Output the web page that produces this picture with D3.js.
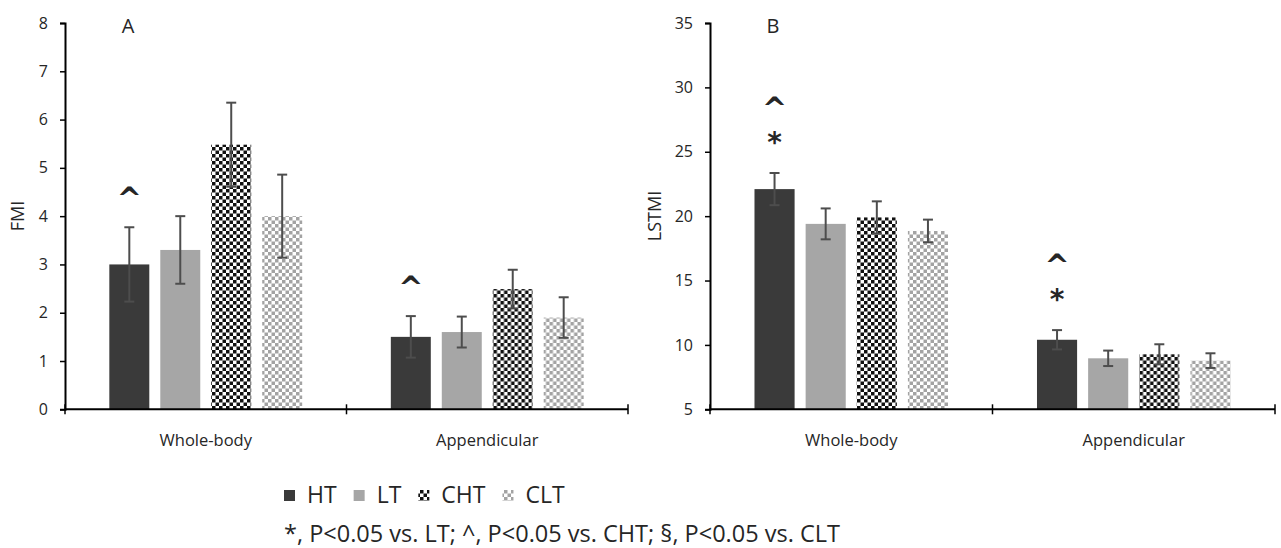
<!DOCTYPE html>
<meta charset="utf-8">
<script src="https://d3js.org/d3.v7.min.js"></script>
<body style="margin:0;background:#fff">
<div id="chart"></div>
</body>
<style>
  text { font-family: "Open Sans", sans-serif; fill: #262626; }
</style>
<script>
// data
var categories = ["Whole-body", "Appendicular"];
var groups = ["HT", "LT", "CHT", "CLT"];

// FMI (panel A): means and error half-widths, [category][group]
var fmiMean = [[3.0, 3.3, 5.48, 4.0], [1.5, 1.6, 2.49, 1.9]];
var fmiErr  = [[0.77, 0.7, 0.87, 0.86], [0.43, 0.32, 0.4, 0.42]];
var fmiMarks = [["^", "", "", ""], ["^", "", "", ""]];
var fmiTicks = [0, 1, 2, 3, 4, 5, 6, 7, 8];

// LSTMI (panel B)
var lstmiMean = [[22.1, 19.4, 19.9, 18.85], [10.4, 8.96, 9.27, 8.78]];
var lstmiErr  = [[1.25, 1.2, 1.25, 0.88], [0.75, 0.6, 0.78, 0.57]];
var lstmiMarks = [["*^", "", "", ""], ["*^", "", "", ""]];
var lstmiTicks = [5, 10, 15, 20, 25, 30, 35];

var footnote = "*, P<0.05 vs. LT; ^, P<0.05 vs. CHT; §, P<0.05 vs. CLT";

var W = 1281, H = 548;
var svg = d3.select("#chart").append("svg")
  .attr("width", W).attr("height", H);

// patterns for the checkered bars
var defs = svg.append("defs");
function checker(id, color) {
  var p = defs.append("pattern").attr("id", id)
    .attr("patternUnits", "userSpaceOnUse")
    .attr("width", 7).attr("height", 7);
  p.append("rect").attr("width", 7).attr("height", 7).attr("fill", "#fff");
  p.append("rect").attr("width", 3.5).attr("height", 3.5).attr("fill", color);
  p.append("rect").attr("x", 3.5).attr("y", 3.5).attr("width", 3.5).attr("height", 3.5).attr("fill", color);
}
checker("chk-dark", "#111");
checker("chk-light", "#a3a3a3");

var fills = {HT: "#3a3a3a", LT: "#a6a6a6", CHT: "url(#chk-dark)", CLT: "url(#chk-light)"};

var yTop = 23, yBot = 409.3;

function panel(opt) {
  var g = svg.append("g");

  var y = d3.scaleLinear().domain(opt.domain).range([yBot, yTop]);
  var x0 = d3.scaleBand().domain(categories).range([opt.left, opt.right]);
  var x1 = d3.scaleBand().domain(groups).range([0, x0.bandwidth()])
    .paddingInner(11 / 51).paddingOuter(0.87);

  // y axis
  var yAxis = g.append("g")
    .attr("transform", "translate(" + opt.left + ",0)")
    .call(d3.axisLeft(y).tickValues(opt.ticks).tickSize(5).tickPadding(12));
  yAxis.select(".domain").attr("stroke", "#000").attr("stroke-width", 2);
  yAxis.selectAll(".tick line").attr("stroke", "#000").attr("stroke-width", 1.5);
  yAxis.selectAll(".tick text").style("font-size", "16px").attr("fill", "#262626")
    .style("font-family", "'Open Sans', sans-serif");

  // bars
  categories.forEach(function(c, ci) {
    var rows = groups.map(function(gname, gi) {
      return {g: gname, v: opt.mean[ci][gi], e: opt.err[ci][gi], m: opt.marks[ci][gi]};
    });
    var cg = g.append("g").attr("transform", "translate(" + x0(c) + ",0)");
    cg.selectAll("rect.bar").data(rows).enter().append("rect")
      .attr("class", "bar")
      .attr("x", function(d) { return x1(d.g); })
      .attr("y", function(d) { return y(d.v); })
      .attr("width", x1.bandwidth())
      .attr("height", function(d) { return yBot - y(d.v); })
      .attr("fill", function(d) { return fills[d.g]; });

    var eb = cg.selectAll("g.err").data(rows).enter().append("g").attr("class", "err")
      .attr("stroke", "#4d4d4d").attr("stroke-width", 2);
    var cx = function(d) { return x1(d.g) + x1.bandwidth() / 2; };
    eb.append("line")
      .attr("x1", cx).attr("x2", cx)
      .attr("y1", function(d) { return y(d.v + d.e); })
      .attr("y2", function(d) { return y(d.v - d.e); });
    [1, -1].forEach(function(s) {
      eb.append("line")
        .attr("x1", function(d) { return cx(d) - 5; })
        .attr("x2", function(d) { return cx(d) + 5; })
        .attr("y1", function(d) { return y(d.v + s * d.e); })
        .attr("y2", function(d) { return y(d.v + s * d.e); });
    });

    // significance marks stacked above the error bar (one text, one line each)
    rows.filter(function(d) { return d.m; }).forEach(function(d) {
      var t = cg.append("text")
        .attr("text-anchor", "middle")
        .style("font-family", "'DejaVu Sans', sans-serif")
        .style("font-weight", "bold")
        .attr("fill", "#111");
      d.m.split("").forEach(function(ch, k) {
        var yy = y(d.v + d.e) - 37 - 36 * k;
        t.append("tspan")
          .attr("x", cx(d))
          .attr("y", ch === "^" ? yy + 19 : yy + 16)
          .style("font-size", ch === "^" ? "30px" : "28px")
          .text(ch);
      });
    });

    // category label
    g.append("text")
      .attr("x", x0(c) + x0.bandwidth() / 2)
      .attr("y", 446)
      .attr("text-anchor", "middle")
      .style("font-size", "16.5px")
      .text(c);
  });

  // x axis line with category separators
  g.append("line")
    .attr("x1", opt.left).attr("x2", opt.right)
    .attr("y1", yBot).attr("y2", yBot)
    .attr("stroke", "#000").attr("stroke-width", 2);
  categories.forEach(function(c, ci) {
    var xs = [x0(c) + x0.bandwidth()];
    if (ci === 0) xs.push(x0(c));
    xs.forEach(function(xx) {
      g.append("line")
        .attr("x1", xx).attr("x2", xx)
        .attr("y1", yBot - 5).attr("y2", yBot + 5)
        .attr("stroke", "#000").attr("stroke-width", 1.5);
    });
  });

  // axis title
  g.append("text")
    .attr("transform", "translate(" + opt.titleX + "," + 216 + ") rotate(-90)")
    .attr("text-anchor", "middle")
    .style("font-size", "18px")
    .text(opt.title);

  // panel letter
  g.append("text")
    .attr("x", opt.letterX).attr("y", 33)
    .attr("text-anchor", "middle")
    .style("font-size", "20px")
    .text(opt.letter);
}

panel({left: 65, right: 628, domain: [0, 8], ticks: fmiTicks,
  mean: fmiMean, err: fmiErr, marks: fmiMarks,
  title: "FMI", titleX: 24, letter: "A", letterX: 128});
panel({left: 710, right: 1275, domain: [5, 35], ticks: lstmiTicks,
  mean: lstmiMean, err: lstmiErr, marks: lstmiMarks,
  title: "LSTMI", titleX: 661, letter: "B", letterX: 773});

// footnote, sized to span the same width as in the figure
var fn = svg.append("text")
  .attr("x", 284).attr("y", 542)
  .style("font-size", "20px")
  .text(footnote);
var fnLen = fn.node().getComputedTextLength();
var fnSize = 20 * 556 / fnLen;
fn.style("font-size", fnSize + "px");

// legend: square, label, then the next item
var leg = svg.append("g");
var lx = 284;
groups.forEach(function(gname) {
  leg.append("rect")
    .attr("x", lx).attr("y", 490)
    .attr("width", 11).attr("height", 11)
    .attr("fill", fills[gname]);
  var t = leg.append("text")
    .attr("x", lx + 23).attr("y", 503)
    .style("font-size", (fnSize - 0.5) + "px")
    .text(gname);
  lx += 23 + t.node().getComputedTextLength() + 17;
});
</script>
